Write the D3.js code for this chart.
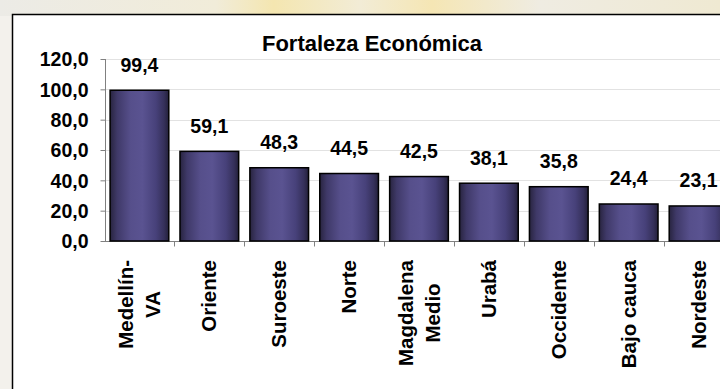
<!DOCTYPE html>
<html><head><meta charset="utf-8">
<script src="https://cdn.jsdelivr.net/npm/d3@7"></script>
<style>html,body{margin:0;padding:0;background:#f2f0ea;}svg{display:block;}</style>
</head><body>
<svg id="c" width="720" height="389"></svg>
<script>
const categories = ["Medellín-\nVA","Oriente","Suroeste","Norte","Magdalena\nMedio","Urabá","Occidente","Bajo cauca","Nordeste"];
const values = [99.4,59.1,48.3,44.5,42.5,38.1,35.8,24.4,23.1];
const yTicks = [0,20,40,60,80,100,120];
const title = "Fortaleza Económica";

const svg = d3.select("#c");
const W = 720, H = 389;
const font = "'Liberation Sans', Arial, sans-serif";
const fmt = v => d3.format(".1f")(v).replace(".", ",");

// background
const defs = svg.append("defs");
const bg = defs.append("linearGradient").attr("id","bgg").attr("x1",0).attr("x2",1).attr("y1",0).attr("y2",0);
[[0,"#ecebe6"],[0.3,"#f1ecd9"],[0.38,"#f4e6b0"],[0.5,"#f2ecd6"],[0.6,"#f5e6b4"],[0.75,"#efece2"],[1,"#efe9d2"]].forEach(s=>bg.append("stop").attr("offset",s[0]).attr("stop-color",s[1]));
svg.append("rect").attr("width",W).attr("height",H).attr("fill","#f3f1ec");
svg.append("rect").attr("width",W).attr("height",16).attr("fill","url(#bgg)");

// bar gradient
const bgGrad = defs.append("linearGradient").attr("id","barg").attr("x1",0).attr("x2",1).attr("y1",0).attr("y2",0);
[[0,"#28243f"],[0.12,"#3f3968"],[0.35,"#564f8b"],[0.55,"#5a5391"],[0.78,"#47417a"],[0.92,"#35305a"],[1,"#23203a"]].forEach(s=>bgGrad.append("stop").attr("offset",s[0]).attr("stop-color",s[1]));

// panel
svg.append("rect").attr("x",12.5).attr("y",14.5).attr("width",W).attr("height",H).attr("fill","#fff").attr("stroke","#000").attr("stroke-width",1.5);

const x = d3.scaleBand().domain(categories).range([104.5, 733.5]).padding(0);
const y = d3.scaleLinear().domain([0,120]).range([241,59]);
const bw = x.bandwidth();

// gridlines
svg.append("g").selectAll("line").data(yTicks.filter(d=>d>0)).join("line")
  .attr("x1",105).attr("x2",W).attr("y1",d=>Math.round(y(d))+0.5).attr("y2",d=>Math.round(y(d))+0.5)
  .attr("stroke","#e2e2e2").attr("stroke-width",1);

// y axis
const yAxis = svg.append("g").attr("transform","translate(105.5,0)")
  .call(d3.axisLeft(y).tickValues(yTicks).tickSize(5).tickPadding(12).tickFormat(fmt));
yAxis.select(".domain").attr("stroke","#808080").attr("d","M0,"+y(120)+"V"+y(0));
yAxis.selectAll(".tick line").attr("stroke","#808080");
yAxis.selectAll(".tick text").attr("font-family",font).attr("font-weight","bold").attr("font-size","19.5px").attr("fill","#000").attr("dy","0.35em");

// x axis
const xAxis = svg.append("g").attr("transform","translate(0,241.5)");
xAxis.append("line").attr("x1",105).attr("x2",W).attr("y1",0).attr("y2",0).attr("stroke","#808080");
xAxis.selectAll("line.t").data(categories).join("line").attr("class","t")
  .attr("x1",d=>Math.round(x(d)+bw)+0.5).attr("x2",d=>Math.round(x(d)+bw)+0.5).attr("y1",0).attr("y2",5).attr("stroke","#808080");

// bars
const data = categories.map((c,i)=>({c, v: values[i]}));
svg.append("g").selectAll("rect").data(data).join("rect")
  .attr("x",d=>x(d.c)+bw*0.08).attr("width",bw*0.84)
  .attr("y",d=>y(d.v)).attr("height",d=>y(0)-y(d.v))
  .attr("fill","url(#barg)").attr("stroke","#000").attr("stroke-width",1.5);

// value labels
svg.append("g").selectAll("text").data(data).join("text")
  .attr("x",d=>x(d.c)+bw*0.5).attr("y",d=>y(d.v)-18.5)
  .attr("text-anchor","middle").attr("font-family",font).attr("font-weight","bold").attr("font-size","19.5px")
  .text(d=>fmt(d.v));

// category labels
const lg = svg.append("g");
data.forEach(d=>{
  const lines = d.c.split("\n");
  const g = lg.append("g").attr("transform",`translate(${x(d.c)+bw*0.5},260) rotate(-90)`);
  const texts = lines.map((ln,i)=>g.append("text").attr("font-family",font).attr("font-weight","bold").attr("font-size","20.5px")
     .attr("text-anchor","middle").attr("y", 7 + (i-(lines.length-1)/2)*27).text(ln));
  const L = d3.max(texts, t=>t.node().getComputedTextLength());
  texts.forEach(t=>t.attr("x",-L/2));
});

// title
svg.append("text").attr("x",372).attr("y",51).attr("text-anchor","middle")
  .attr("font-family",font).attr("font-weight","bold").attr("font-size","22px").text(title);
</script>
</body></html>
